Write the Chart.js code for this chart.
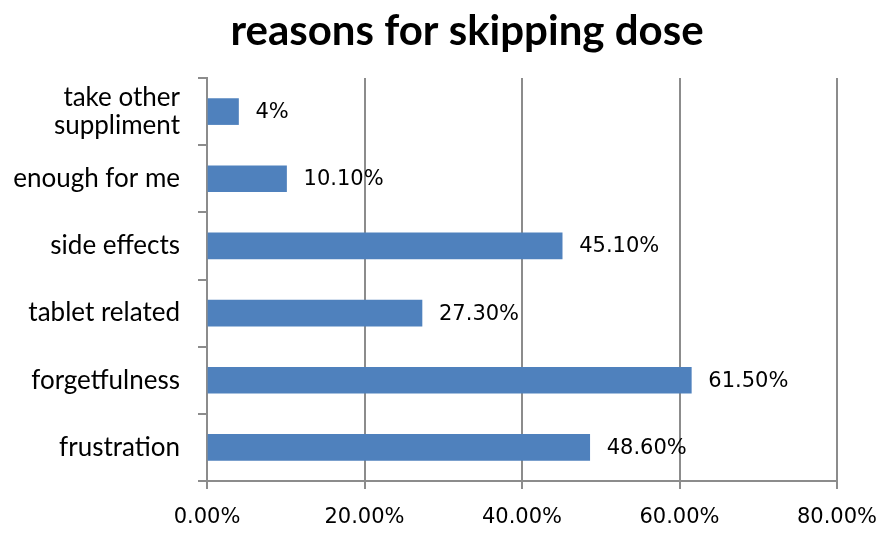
<!DOCTYPE html>
<html>
<head>
<meta charset="utf-8">
<script src="https://cdn.jsdelivr.net/npm/chart.js@4.4.1/dist/chart.umd.min.js"></script>
<style>
	html, body { margin: 0; padding: 0; background: #fff; }
	#wrap { width: 881px; height: 549px; }
</style>
</head>
<body>
<div id="wrap"><canvas id="chart"></canvas></div>
<script>
const chartTitle = 'reasons for skipping dose';
const categories = [['take other', 'suppliment'], 'enough for me', 'side effects', 'tablet related', 'forgetfulness', 'frustration'];
const values = [4, 10.1, 45.1, 27.3, 61.5, 48.6];
const valueLabels = ['4%', '10.10%', '45.10%', '27.30%', '61.50%', '48.60%'];
const xTicks = [0, 20, 40, 60, 80];

// title + the % text to the right of each bar
const extraText = {
	id: 'extraText',
	afterDraw: chart => {
		const ctx = chart.ctx;
		ctx.save();
		ctx.fillStyle = '#000';
		ctx.font = 'bold 42px Lato';
		ctx.textAlign = 'center';
		ctx.textBaseline = 'alphabetic';
		ctx.fillText(chartTitle, 467, 45);

		ctx.font = '21px "DejaVu Sans"';
		ctx.textBaseline = 'middle';
		ctx.textAlign = 'left';
		chart.getDatasetMeta(0).data.forEach((bar, i) => {
			ctx.fillText(valueLabels[i], bar.x + 17, bar.y + 1);
		});
		ctx.restore();
	}
};

new Chart(document.getElementById('chart'), {
	type: 'bar',
	data: {
		labels: categories,
		datasets: [{
			data: values,
			backgroundColor: '#4f81bd',
			barThickness: 26
		}]
	},
	options: {
		indexAxis: 'y',
		responsive: true,
		maintainAspectRatio: false,
		animation: false,
		layout: { padding: { left: 0, right: 44, top: 78, bottom: 8 } },
		plugins: {
			legend: { display: false },
			tooltip: { enabled: false },
			title: { display: false }
		},
		scales: {
			x: {
				min: 0,
				max: 80,
				afterBuildTicks: axis => { axis.ticks = xTicks.map(v => ({ value: v })); },
				afterFit: axis => {
					axis.height = 60;
					axis.paddingLeft = 0;
					axis.paddingRight = 0;
				},
				border: { display: true, color: '#8c8c8c', width: 2 },
				grid: { color: '#8c8c8c', lineWidth: 2, tickLength: 8 },
				ticks: {
					color: '#000',
					padding: 16,
					maxRotation: 0,
					font: { family: '"DejaVu Sans"', size: 21 },
					callback: v => v.toFixed(2) + '%'
				}
			},
			y: {
				afterFit: axis => { axis.width = 207; },
				border: { display: true, color: '#8c8c8c', width: 2 },
				grid: { display: true, drawOnChartArea: false, color: '#8c8c8c', lineWidth: 2, tickLength: 9, offset: true },
				ticks: {
					color: '#000',
					padding: 18,
					font: { family: 'Lato', size: 26, lineHeight: 1.1 }
				}
			}
		}
	},
	plugins: [extraText]
});
</script>
</body>
</html>
